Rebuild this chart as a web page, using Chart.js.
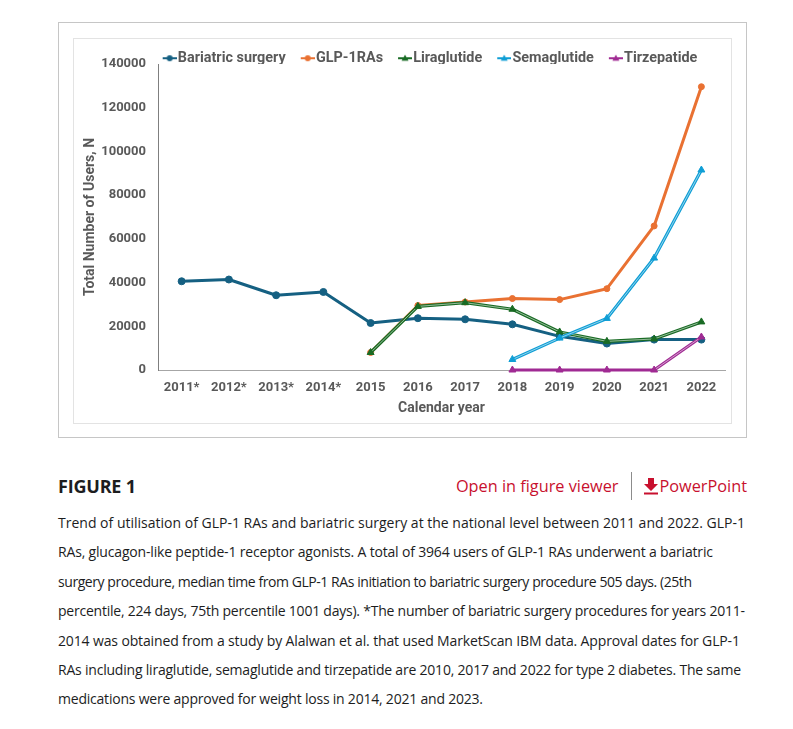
<!DOCTYPE html>
<html>
<head>
<meta charset="utf-8">
<script src="https://cdn.jsdelivr.net/npm/chart.js@4.4.1/dist/chart.umd.min.js"></script>
<style>
  html, body { margin: 0; padding: 0; background: #fff; }
  body { width: 793px; height: 729px; position: relative; overflow: hidden; font-family: 'Open Sans', sans-serif; }
  .figbox { position: absolute; left: 58px; top: 22px; width: 687px; height: 414px; border: 1px solid #c6c6c6; }
  .chartframe { position: absolute; left: 73px; top: 38px; width: 657px; height: 384px; border: 1px solid #e3e3e3; }
  .chartwrap { position: absolute; left: 73px; top: 38px; width: 712px; height: 386px; }
  .figtitle { position: absolute; left: 58px; top: 474px; font-size: 18px; font-weight: 700; color: #1c1d1e; letter-spacing: -0.2px; }
  .links { position: absolute; right: 46px; top: 472px; height: 28px; display: flex; align-items: center; font-size: 16.3px; color: #c8102e; }
  .links .sep { width: 1px; height: 28px; background: #8c8c8c; margin: 0 11px 0 12px; }
  .links svg { margin-right: 1px; }
  .caption { position: absolute; left: 58px; top: 508px; width: 720px; font-size: 14px; line-height: 29.4px; color: #1c1d1e; white-space: nowrap; }
  .caption span { display: block; }
</style>
</head>
<body>
<div class="figbox"></div>
<div class="chartframe"></div>
<div class="chartwrap"><canvas id="usersChart"></canvas></div>

<div class="figtitle">FIGURE 1</div>
<div class="links">
  <span>Open in figure viewer</span>
  <span class="sep"></span>
  <svg width="16" height="18" viewBox="0 0 16 18"><path d="M5 1h6v6h4l-7 7-7-7h4z" fill="#c8102e"/><rect x="1" y="15.5" width="14" height="2" fill="#c8102e"/></svg>
  <span>PowerPoint</span>
</div>
<div class="caption" id="caption">
<span>Trend of utilisation of GLP-1 RAs and bariatric surgery at the national level between 2011 and 2022. GLP-1</span>
<span>RAs, glucagon-like peptide-1 receptor agonists. A total of 3964 users of GLP-1 RAs underwent a bariatric</span>
<span>surgery procedure, median time from GLP-1 RAs initiation to bariatric surgery procedure 505 days. (25th</span>
<span>percentile, 224 days, 75th percentile 1001 days). *The number of bariatric surgery procedures for years 2011-</span>
<span>2014 was obtained from a study by Alalwan et al. that used MarketScan IBM data. Approval dates for GLP-1</span>
<span>RAs including liraglutide, semaglutide and tirzepatide are 2010, 2017 and 2022 for type 2 diabetes. The same</span>
<span>medications were approved for weight loss in 2014, 2021 and 2023.</span>
</div>

<script>
// données
const years = ['2011*', '2012*', '2013*', '2014*', '2015', '2016', '2017', '2018', '2019', '2020', '2021', '2022'];
const bariatric = [40600, 41400, 34200, 35700, 21500, 23700, 23200, 20900, 15400, 12100, 13900, 13900];
const glp1 = [null, null, null, null, 8000, 29500, 31100, 32700, 32200, 37200, 65900, 129600];
const liraglutide = [null, null, null, null, 8000, 29100, 30800, 27800, 17400, 13100, 14200, 22000];
const semaglutide = [null, null, null, null, null, null, null, 4800, 14600, 23600, 51200, 91500];
const tirzepatide = [null, null, null, null, null, null, null, 0, 0, 0, 0, 15100];
const yMax = 140000;
const yStep = 20000;

const textGrey = '#595959';
const chartFont = "Roboto, 'Liberation Sans', sans-serif";

// largeur des lignes de la légende (fin de ligne visée, en px)
const captionEnds = [745, 713, 692, 745, 740, 741, 483];
document.querySelectorAll('#caption span').forEach((el, i) => {
  el.style.display = 'inline-block';
  const w = el.getBoundingClientRect().width;
  const n = el.textContent.length - 1;
  el.style.letterSpacing = ((captionEnds[i] - 58 - w) / n) + 'px';
  el.style.display = 'block';
});

// style des séries (couleurs Office)
const series = [
  { label: 'Bariatric surgery', data: bariatric, color: '#156082', point: 'circle', radius: 3.5, width: 3, double: false },
  { label: 'GLP-1RAs', data: glp1, color: '#E97132', point: 'circle', radius: 3, width: 3, double: false },
  { label: 'Liraglutide', data: liraglutide, color: '#196B24', point: 'triangle', radius: 4, width: 3.2, double: true },
  { label: 'Semaglutide', data: semaglutide, color: '#0F9ED5', point: 'triangle', radius: 4, width: 3.2, double: true },
  { label: 'Tirzepatide', data: tirzepatide, color: '#A02B93', point: 'triangle', radius: 4, width: 3.2, double: true }
];

// petite icône de légende : trait + marqueur
function legendIcon(s) {
  const c = document.createElement('canvas');
  c.width = 22; c.height = 10;
  const g = c.getContext('2d');
  g.strokeStyle = s.color;
  g.lineWidth = 2;
  g.beginPath(); g.moveTo(8, 5); g.lineTo(22, 5); g.stroke();
  g.fillStyle = s.color;
  g.beginPath();
  if (s.point === 'circle') {
    g.arc(15, 5, 3, 0, Math.PI * 2);
  } else {
    g.moveTo(15, 1.5); g.lineTo(18.5, 7.5); g.lineTo(11.5, 7.5); g.closePath();
  }
  g.fill();
  return c;
}

const innerColor = 'rgba(255,255,255,0.55)';

const datasets = [];
series.forEach((s, i) => {
  const base = 20 - 2 * i;
  datasets.push({
    label: s.label,
    data: s.data,
    borderColor: s.color,
    backgroundColor: s.color,
    borderWidth: s.width,
    borderJoinStyle: 'round',
    borderCapStyle: 'round',
    pointStyle: s.point,
    pointRadius: s.double ? 0 : s.radius,
    pointBorderWidth: 1,
    pointBackgroundColor: s.color,
    pointBorderColor: s.color,
    tension: 0,
    clip: false,
    order: base
  });
  if (s.double) {
    // trait clair au centre (ligne double d'Excel), plein sur l'axe
    datasets.push({
      label: s.label + ' (inner)',
      data: s.data,
      borderColor: innerColor,
      borderWidth: 1,
      borderJoinStyle: 'round',
      segment: {
        borderColor: (ctx) => (ctx.p0.parsed.y === 0 && ctx.p1.parsed.y === 0) ? s.color : innerColor
      },
      pointStyle: s.point,
      pointRadius: s.radius,
      pointBorderWidth: 1,
      pointBackgroundColor: s.color,
      pointBorderColor: s.color,
      tension: 0,
      clip: false,
      order: base - 1
    });
  }
});

// hauteur fixe de la légende + décalage horizontal
const legendBox = {
  id: 'legendBox',
  beforeInit(chart) {
    const fit = chart.legend.fit;
    chart.legend.fit = function () {
      fit.call(this);
      this.height = 26;
    };
  },
  afterLayout(chart) {
    chart.legend.left += 30;
    chart.legend.right += 30;
  }
};

new Chart(document.getElementById('usersChart'), {
  type: 'line',
  data: { labels: years, datasets: datasets },
  plugins: [legendBox],
  options: {
    responsive: true,
    maintainAspectRatio: false,
    animation: false,
    layout: { padding: { left: 0, right: 60, top: 0, bottom: 0 } },
    plugins: {
      tooltip: { enabled: false },
      legend: {
        position: 'top',
        labels: {
          usePointStyle: true,
          pointStyleWidth: 10,
          padding: 13,
          color: textGrey,
          font: { family: chartFont, size: 14.4, weight: 'bold' },
          generateLabels: () => series.map((s, i) => ({
            text: s.label,
            pointStyle: legendIcon(s),
            fontColor: textGrey,
            fillStyle: 'transparent',
            strokeStyle: 'transparent',
            lineWidth: 0,
            hidden: false,
            datasetIndex: i
          }))
        }
      }
    },
    scales: {
      x: {
        offset: true,
        grid: { display: false, drawTicks: false },
        border: { display: true, color: '#a6a6a6', width: 1 },
        ticks: { color: textGrey, padding: 10, font: { family: chartFont, size: 13, weight: 'bold' } },
        title: {
          display: true,
          text: 'Calendar year',
          color: textGrey,
          font: { family: chartFont, size: 14, weight: 'bold' },
          padding: { top: 0, bottom: 7.6 }
        },
        afterFit: (scale) => { scale.height = 54; }
      },
      y: {
        min: 0,
        max: yMax,
        grid: { display: false, drawTicks: false },
        border: { display: true, color: '#7f7f7f', width: 1 },
        ticks: {
          stepSize: yStep,
          color: textGrey,
          padding: 12,
          font: { family: chartFont, size: 13, weight: 'bold' },
          callback: (v) => String(v)
        },
        title: {
          display: true,
          text: 'Total Number of Users, N',
          color: textGrey,
          font: { family: chartFont, size: 14, weight: 'bold' },
          padding: { top: 8.6, bottom: 0 }
        },
        afterFit: (scale) => { scale.width = 85; }
      }
    }
  }
});
</script>
</body>
</html>
